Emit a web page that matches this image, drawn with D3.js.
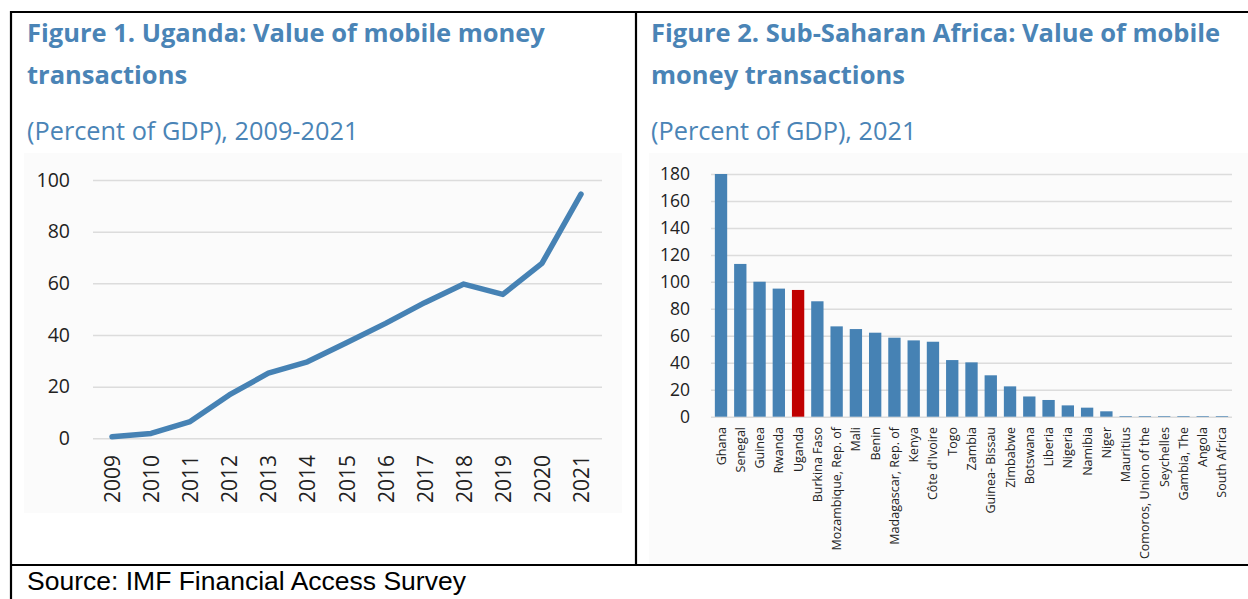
<!DOCTYPE html>
<html>
<head>
<meta charset="utf-8">
<script src="https://cdn.jsdelivr.net/npm/d3@7"></script>
<style>
  body { margin: 0; background: #fff; }
  svg { display: block; }
  .ttl { font-family: "Open Sans", sans-serif; font-weight: 700; fill: #4a84b6; }
  .sub { font-family: "Open Sans", sans-serif; fill: #4a84b6; }
  .tick text { font-family: "Open Sans", sans-serif; fill: #222; }
</style>
</head>
<body>
<svg id="fig"></svg>
<script>
// Figure 1 data: Uganda, value of mobile money transactions (% of GDP)
const years = ['2009','2010','2011','2012','2013','2014','2015','2016','2017','2018','2019','2020','2021'];
const ugandaVals = [0.6, 1.9, 6.5, 16.8, 25.2, 29.6, 37, 44.5, 52.5, 59.7, 55.7, 67.7, 94.5];
const leftTicks = [0, 20, 40, 60, 80, 100];

// Figure 2 data: Sub-Saharan Africa 2021
const countries = ['Ghana','Senegal','Guinea','Rwanda','Uganda','Burkina Faso','Mozambique, Rep. of','Mali','Benin',
  'Madagascar, Rep. of','Kenya',"Côte d'Ivoire",'Togo','Zambia','Guinea- Bissau','Zimbabwe','Botswana','Liberia',
  'Nigeria','Namibia','Niger','Mauritius','Comoros, Union of the','Seychelles','Gambia, The','Angola','South Africa'];
const ssaVals = [180, 113.3, 100.1, 95, 94, 85.6, 67, 65, 62.3, 58.6, 56.6, 55.6, 42, 40.3, 30.7, 22.5, 15, 12.4,
  8.4, 6.7, 4, 0.5, 0.5, 0.5, 0.5, 0.5, 0.5];
const rightTicks = [0, 20, 40, 60, 80, 100, 120, 140, 160, 180];
const highlight = 'Uganda';

const W = 1248, H = 599;
const blue = '#4682b4', red = '#c00000', grid = '#dcdcdc';

const svg = d3.select('#fig').attr('width', W).attr('height', H);

// panel backgrounds
svg.append('rect').attr('x', 24).attr('y', 153).attr('width', 598).attr('height', 360).attr('fill', '#fbfbfb');
svg.append('rect').attr('x', 649).attr('y', 153).attr('width', 599).attr('height', 412).attr('fill', '#fbfbfb');

// ---- left chart ----
let x1 = d3.scalePoint().domain(years).range([112, 581]);
let y1 = d3.scaleLinear().domain([0, 100]).range([438.3, 180]);

let gy1 = svg.append('g').attr('transform', 'translate(93,0)')
  .call(d3.axisLeft(y1).tickValues(leftTicks).tickSize(-509).tickPadding(23));
gy1.select('.domain').remove();
gy1.selectAll('.tick line').attr('stroke', grid).attr('stroke-width', 1.5);
gy1.selectAll('.tick text').attr('font-size', 19.5);

let gx1 = svg.append('g').attr('transform', 'translate(0,455)')
  .call(d3.axisBottom(x1).tickSize(0));
gx1.select('.domain').remove();
gx1.selectAll('.tick text')
  .attr('font-family', '"Liberation Sans", Arial, sans-serif')
  .attr('font-size', 21)
  .attr('text-anchor', 'end')
  .attr('transform', 'rotate(-90)')
  .attr('x', 0).attr('y', 0).attr('dy', '0.36em');

let line = d3.line().x((d, i) => x1(years[i])).y(d => y1(d));
svg.append('path').datum(ugandaVals)
  .attr('d', line)
  .attr('fill', 'none')
  .attr('stroke', blue)
  .attr('stroke-width', 5.5)
  .attr('stroke-linejoin', 'round')
  .attr('stroke-linecap', 'round');

// ---- right chart ----
let x2 = d3.scaleBand().domain(countries).range([711, 1232]).paddingInner(0.36).paddingOuter(0.2);
let y2 = d3.scaleLinear().domain([0, 180]).range([416.7, 174]);

let gy2 = svg.append('g').attr('transform', 'translate(711,0)')
  .call(d3.axisLeft(y2).tickValues(rightTicks).tickSize(-521).tickPadding(21));
gy2.select('.domain').remove();
gy2.selectAll('.tick line').attr('stroke', grid).attr('stroke-width', 1.5);
gy2.selectAll('.tick text').attr('font-size', 17.5);

svg.append('g').selectAll('rect')
  .data(ssaVals)
  .enter()
  .append('rect')
  .attr('x', (d, i) => x2(countries[i]))
  .attr('width', x2.bandwidth())
  .attr('y', d => y2(d))
  .attr('height', d => y2(0) - y2(d))
  .attr('fill', (d, i) => countries[i] == highlight ? red : blue);

let gx2 = svg.append('g').attr('transform', 'translate(0,427)')
  .call(d3.axisBottom(x2).tickSize(0));
gx2.select('.domain').remove();
gx2.selectAll('.tick text')
  .attr('font-size', 12.5)
  .attr('text-anchor', 'end')
  .attr('transform', 'rotate(-90)')
  .attr('x', 0).attr('y', 0).attr('dy', '0.36em');

// ---- titles ----
const titles = [
  { x: 27, lines: ['Figure 1. Uganda: Value of mobile money', 'transactions'], sub: '(Percent of GDP), 2009-2021' },
  { x: 651, lines: ['Figure 2. Sub-Saharan Africa: Value of mobile', 'money transactions'], sub: '(Percent of GDP), 2021' }
];
titles.forEach(t => {
  t.lines.forEach((l, i) => {
    svg.append('text').attr('class', 'ttl').attr('x', t.x).attr('y', 42 + i * 42)
      .attr('font-size', 25.5).text(l);
  });
  svg.append('text').attr('class', 'sub').attr('x', t.x).attr('y', 140)
    .attr('font-size', 25.3).text(t.sub);
});

svg.append('text').attr('x', 27).attr('y', 590)
  .attr('font-family', '"Liberation Sans", Arial, sans-serif')
  .attr('font-size', 26.5).attr('fill', '#000')
  .text('Source: IMF Financial Access Survey');

// ---- table borders ----
let border = svg.append('g').attr('stroke', '#000').attr('stroke-width', 2.2);
border.append('line').attr('x1', 10).attr('x2', W).attr('y1', 12).attr('y2', 12);
border.append('line').attr('x1', 10).attr('x2', W).attr('y1', 565).attr('y2', 565);
border.append('line').attr('x1', 11).attr('x2', 11).attr('y1', 11).attr('y2', H);
border.append('line').attr('x1', 636).attr('x2', 636).attr('y1', 12).attr('y2', 565);
</script>
</body>
</html>
